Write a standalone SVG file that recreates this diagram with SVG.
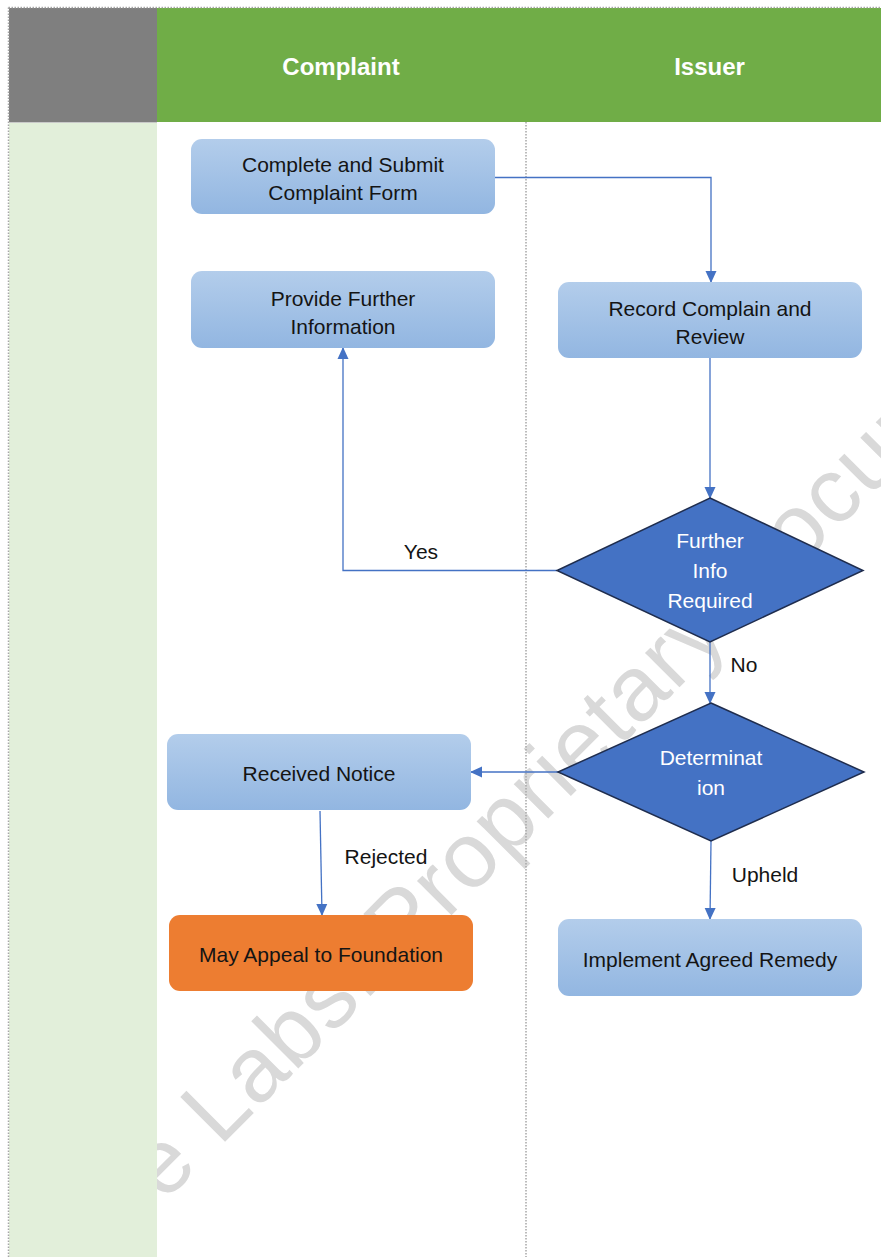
<svg xmlns="http://www.w3.org/2000/svg" width="881" height="1257" viewBox="0 0 881 1257">
  <style>
    .hdr { font-family: "Liberation Sans", Arial, sans-serif; font-size: 24px; font-weight: bold; fill: #ffffff; text-anchor: middle; }
    .box { fill: url(#boxFill); }
    .txt { font-family: "Liberation Sans", Arial, sans-serif; font-size: 21px; fill: #141414; text-anchor: middle; }
    .dtxt { font-family: "Liberation Sans", Arial, sans-serif; font-size: 21px; fill: #ffffff; text-anchor: middle; }
    .lbl { font-family: "Liberation Sans", Arial, sans-serif; font-size: 21px; fill: #141414; text-anchor: middle; }
    .diamond { fill: #4472C4; stroke: #1F2D4E; stroke-width: 1.5; }
    .conn { fill: none; stroke: #4472C4; stroke-width: 1.3; }
    .grid { stroke: #A6A6A6; stroke-width: 1.5; stroke-dasharray: 1.5 1.5; fill: none; }
    .wm { font-family: "Liberation Sans", Arial, sans-serif; font-size: 92px; fill: #D9D9D9; }
  </style>
  <defs>
    <linearGradient id="boxFill" x1="0" y1="0" x2="0" y2="1">
      <stop offset="0" stop-color="#B3CDEB"/>
      <stop offset="1" stop-color="#92B6E1"/>
    </linearGradient>
    <marker id="arrow" viewBox="0 0 12 12" refX="11" refY="6" markerWidth="12" markerHeight="12" markerUnits="userSpaceOnUse" orient="auto">
      <path d="M0,0.5 L12,6 L0,11.5 Z" fill="#4472C4"/>
    </marker>
  </defs>

  <!-- page -->
  <rect x="0" y="0" width="881" height="1257" fill="#ffffff"/>

  <!-- background watermark -->
  <g id="watermark" transform="translate(216.7,1150) rotate(-45)">
    <text class="wm" x="-75" y="0" textLength="1258" lengthAdjust="spacing">e Labs. Proprietary Document</text>
  </g>

  <!-- swimlane frame -->
  <g id="lanes">
    <rect x="9" y="8" width="148" height="114" fill="#7F7F7F"/>
    <rect x="157" y="8" width="724" height="114" fill="#70AD47"/>
    <rect x="9" y="122" width="148" height="1135" fill="#E2EFDA"/>
    <line class="grid" x1="8.5" y1="7.5" x2="881" y2="7.5"/>
    <line class="grid" x1="8.5" y1="7.5" x2="8.5" y2="1257"/>
    <line class="grid" x1="526" y1="122" x2="526" y2="1257"/>
    <line x1="9" y1="122.5" x2="157" y2="122.5" stroke="#C9C9C9" stroke-width="1"/>
    <text class="hdr" x="341" y="74.5">Complaint</text>
    <text class="hdr" x="709.5" y="74.5">Issuer</text>
  </g>

  <!-- connectors -->
  <g id="connectors">
    <path class="conn" d="M495,177.5 H711 V282" marker-end="url(#arrow)"/>
    <path class="conn" d="M710,358 V498" marker-end="url(#arrow)"/>
    <path class="conn" d="M557,570.5 H343 V348" marker-end="url(#arrow)"/>
    <path class="conn" d="M710,642 V703" marker-end="url(#arrow)"/>
    <path class="conn" d="M558,772 H471" marker-end="url(#arrow)"/>
    <path class="conn" d="M320,811 L322,915" marker-end="url(#arrow)"/>
    <path class="conn" d="M711,841 L710,919" marker-end="url(#arrow)"/>
    <text class="lbl" x="421" y="558.5">Yes</text>
    <text class="lbl" x="744" y="671.5">No</text>
    <text class="lbl" x="386" y="863.5">Rejected</text>
    <text class="lbl" x="765" y="881.5">Upheld</text>
  </g>

  <!-- nodes -->
  <g id="submit-form">
    <rect class="box" x="191" y="139" width="304" height="75" rx="11"/>
    <text class="txt" x="343" y="171.5">Complete and Submit</text>
    <text class="txt" x="343" y="199.5">Complaint Form</text>
  </g>
  <g id="provide-info">
    <rect class="box" x="191" y="271" width="304" height="77" rx="11"/>
    <text class="txt" x="343" y="305.5">Provide Further</text>
    <text class="txt" x="343" y="333.5">Information</text>
  </g>
  <g id="record-review">
    <rect class="box" x="558" y="282" width="304" height="76" rx="11"/>
    <text class="txt" x="710" y="315.5">Record Complain and</text>
    <text class="txt" x="710" y="343.5">Review</text>
  </g>
  <g id="further-info">
    <polygon class="diamond" points="710,498 863,570.5 710,642 557,570.5"/>
    <text class="dtxt" x="710" y="547.5">Further</text>
    <text class="dtxt" x="710" y="577.5">Info</text>
    <text class="dtxt" x="710" y="607.5">Required</text>
  </g>
  <g id="determination">
    <polygon class="diamond" points="711,703 864,772 711,841 558,772"/>
    <text class="dtxt" x="711" y="764.5">Determinat</text>
    <text class="dtxt" x="711" y="794.5">ion</text>
  </g>
  <g id="received-notice">
    <rect class="box" x="167" y="734" width="304" height="76" rx="11"/>
    <text class="txt" x="319" y="780.5">Received Notice</text>
  </g>
  <g id="appeal">
    <rect x="169" y="915" width="304" height="76" rx="11" fill="#ED7D31"/>
    <text class="txt" x="321" y="961.5">May Appeal to Foundation</text>
  </g>
  <g id="remedy">
    <rect class="box" x="558" y="919" width="304" height="77" rx="11"/>
    <text class="txt" x="710" y="966.5">Implement Agreed Remedy</text>
  </g>
</svg>
